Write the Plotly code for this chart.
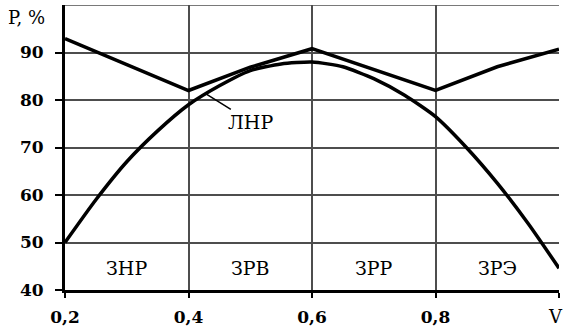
import plotly.graph_objects as go

# Data
v_upper = [0.2, 0.4, 0.5, 0.6, 0.8, 0.9, 1.0]
p_upper = [92.9, 82.0, 86.9, 90.8, 82.0, 87.0, 90.7]

v_lower = [0.2, 0.25, 0.3, 0.35, 0.4, 0.45, 0.5, 0.55, 0.6, 0.65, 0.7, 0.75, 0.8, 0.85, 0.9, 0.95, 1.0]
p_lower = [50.0, 59.0, 67.0, 73.5, 79.0, 83.0, 86.2, 87.6, 88.0, 87.0, 84.5, 81.0, 76.5, 70.0, 62.5, 54.0, 44.6]

x_ticks = [0.2, 0.4, 0.6, 0.8, 1.0]
x_ticktext = ["<b>0,2</b>", "<b>0,4</b>", "<b>0,6</b>", "<b>0,8</b>", ""]
x_axis_title = "V"
y_ticks = [40, 50, 60, 70, 80, 90]
y_ticktext = ["<b>40</b>", "<b>50</b>", "<b>60</b>", "<b>70</b>", "<b>80</b>", "<b>90</b>"]
y_axis_title = "P, %"

zone_x = [0.3, 0.5, 0.7, 0.9]
zone_labels = ["ЗНР", "ЗРВ", "ЗРР", "ЗРЭ"]
zone_y = 44.7

FONT = "DejaVu Serif"
GRID = "#4d4d4d"

fig = go.Figure()
fig.add_trace(go.Scatter(x=v_upper, y=p_upper, mode="lines",
                         line=dict(color="black", width=3.5), showlegend=False))
fig.add_trace(go.Scatter(x=v_lower, y=p_lower, mode="lines",
                         line=dict(color="black", width=3.5, shape="spline", smoothing=0.6),
                         showlegend=False))

annotations = []
for zx, zl in zip(zone_x, zone_labels):
    annotations.append(dict(x=zx, y=zone_y, text=zl, showarrow=False,
                            font=dict(family=FONT, size=19, color="black")))
annotations.append(dict(x=0.427, y=81.4, ax=0.501, ay=75.4, axref="x", ayref="y",
                        text="ЛНР", showarrow=True, arrowhead=0, arrowwidth=1.5,
                        arrowcolor="black", standoff=0,
                        font=dict(family=FONT, size=19, color="black")))
annotations.append(dict(x=0, y=1, xref="paper", yref="paper", xanchor="left", yanchor="middle",
                        xshift=-59, yshift=-12,
                        text=y_axis_title, showarrow=False,
                        font=dict(family=FONT, size=18, color="black")))
annotations.append(dict(x=1, y=0, xref="paper", yref="paper", xanchor="center", yanchor="top",
                        xshift=-4, yshift=-14,
                        text=x_axis_title, showarrow=False,
                        font=dict(family=FONT, size=18, color="black")))

fig.update_layout(
    width=567, height=333,
    margin=dict(l=65, r=8, t=5, b=43, autoexpand=False),
    paper_bgcolor="white", plot_bgcolor="white",
    font=dict(family=FONT, size=17, color="black"),
    annotations=annotations,
    shapes=[dict(type="line", xref="x", yref="y", x0=0.2, x1=1.0, y0=100, y1=100,
                 line=dict(color=GRID, width=1.5))],
)
fig.update_xaxes(range=[0.2, 1.0], tickvals=x_ticks, ticktext=x_ticktext,
                 showgrid=True, gridcolor=GRID, gridwidth=1.5, automargin=False,
                 showline=True, linecolor="black", linewidth=3,
                 ticks="outside", ticklen=5, tickwidth=2, tickcolor="black",
                 ticklabelstandoff=5,
                 tickfont=dict(family=FONT, size=17, color="black"), zeroline=False)
fig.update_yaxes(range=[40, 100], tickvals=y_ticks, ticktext=y_ticktext,
                 showgrid=True, gridcolor=GRID, gridwidth=1.5, automargin=False,
                 showline=True, linecolor="black", linewidth=3,
                 ticks="outside", ticklen=7, tickwidth=2, tickcolor="black",
                 ticklabelstandoff=8,
                 tickfont=dict(family=FONT, size=17, color="black"), zeroline=False)

fig.write_html("out.html", config={"displayModeBar": False},
               post_script="document.body.style.margin='0';")
